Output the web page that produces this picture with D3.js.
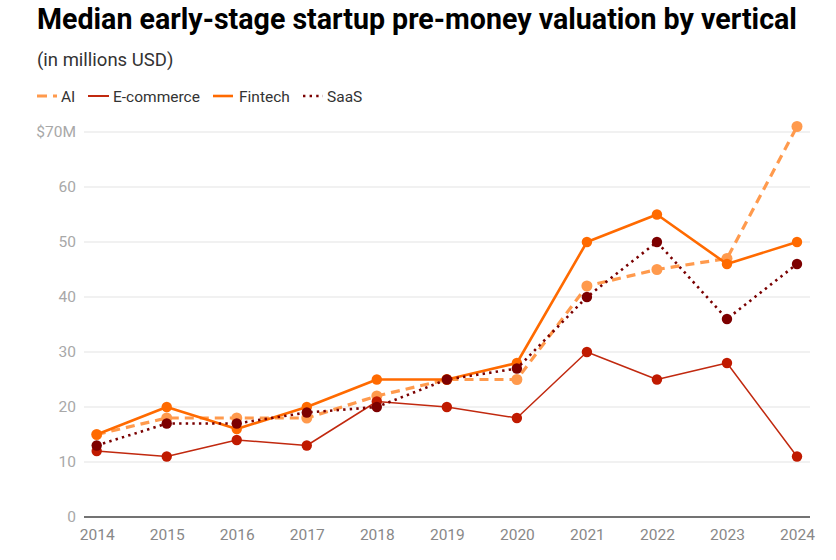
<!DOCTYPE html>
<html>
<head>
<meta charset="utf-8">
<script src="https://cdn.jsdelivr.net/npm/d3@7"></script>
<style>
  html, body { margin: 0; padding: 0; background: #fff; }
  svg { display: block; font-family: Roboto, "Noto Sans", sans-serif; }
</style>
</head>
<body>
<svg id="chart" width="836" height="560"></svg>
<script>
const years = ["2014","2015","2016","2017","2018","2019","2020","2021","2022","2023","2024"];
const seriesNames = ["AI", "E-commerce", "Fintech", "SaaS"];
const aiValues        = [15, 18, 18, 18, 22, 25, 25, 42, 45, 47, 71];
const ecommerceValues = [12, 11, 14, 13, 21, 20, 18, 30, 25, 28, 11];
const fintechValues   = [15, 20, 16, 20, 25, 25, 28, 50, 55, 46, 50];
const saasValues      = [13, 17, 17, 19, 20, 25, 27, 40, 50, 36, 46];
const yTicks = [0, 10, 20, 30, 40, 50, 60, 70];

const styles = {
  "AI":         { line: "#ff9a4d", dot: "#ff9a4d", width: 3.2, dash: "9,6", r: 5.5, cap: "butt" },
  "E-commerce": { line: "#c1290f", dot: "#c01a00", width: 1.5, dash: null, r: 5.2, cap: "butt" },
  "Fintech":    { line: "#ff6a00", dot: "#ff6a00", width: 2.6, dash: null, r: 5.2, cap: "butt" },
  "SaaS":       { line: "#7a0000", dot: "#7d0000", width: 2.6, dash: "2.4,4.2", r: 5.2, cap: "butt" }
};
const valuesBy = { "AI": aiValues, "E-commerce": ecommerceValues, "Fintech": fintechValues, "SaaS": saasValues };

const svg = d3.select("#chart");
const gridLeft = 84, gridRight = 810;

const x = d3.scalePoint().domain(years).range([96.7, 797]);
const y = d3.scaleLinear().domain([0, 70]).range([517, 132]);

// title
svg.append("text").attr("x", 37).attr("y", 28.5)
  .attr("font-size", 26).attr("font-weight", 700).attr("fill", "#000")
  .attr("id", "title")
  .text("Median early-stage startup pre-money valuation by vertical");
svg.append("text").attr("x", 37).attr("y", 65.5)
  .attr("font-size", 18.5).attr("fill", "#333")
  .text("(in millions USD)");

// legend
const legendItems = [
  { name: "AI", sx: 37, sw: 20, tx: 61 },
  { name: "E-commerce", sx: 88, sw: 21, tx: 113 },
  { name: "Fintech", sx: 213, sw: 20, tx: 239 },
  { name: "SaaS", sx: 303, sw: 20, tx: 327 }
];
const lg = svg.append("g");
legendItems.forEach(it => {
  const s = styles[it.name];
  lg.append("line").attr("x1", it.sx).attr("x2", it.sx + it.sw)
    .attr("y1", 96).attr("y2", 96)
    .attr("stroke", s.line).attr("stroke-width", Math.max(s.width, 2))
    .attr("stroke-dasharray", it.name === "AI" ? "10,6" : s.dash);
  lg.append("text").attr("x", it.tx).attr("y", 101.5)
    .attr("font-size", 15.5).attr("fill", "#333").text(it.name);
});

// gridlines and y labels
const yg = svg.append("g");
yTicks.forEach(t => {
  if (t !== 0) {
    yg.append("line").attr("x1", gridLeft).attr("x2", gridRight)
      .attr("y1", y(t)).attr("y2", y(t))
      .attr("stroke", "#e3e3e3").attr("stroke-width", 1);
  }
  yg.append("text").attr("x", 76).attr("y", y(t)).attr("dy", "0.35em")
    .attr("text-anchor", "end").attr("font-size", 15.5).attr("fill", "#a8a8a8")
    .text(t === 70 ? "$70M" : t);
});
// baseline
svg.append("line").attr("x1", gridLeft).attr("x2", gridRight)
  .attr("y1", y(0)).attr("y2", y(0)).attr("stroke", "#444").attr("stroke-width", 1.5);

// x axis
const xAxis = d3.axisBottom(x).tickSize(0).tickPadding(12);
const xg = svg.append("g").attr("transform", `translate(0,${y(0)})`).call(xAxis);
xg.select(".domain").remove();
xg.selectAll("text").attr("font-size", 15.5).attr("fill", "#888")
  .attr("font-family", "Roboto, 'Noto Sans', sans-serif");

// lines
const line = d3.line().x((d, i) => x(years[i])).y(d => y(d));
seriesNames.forEach(name => {
  const s = styles[name];
  const vals = valuesBy[name];
  const g = svg.append("g");
  g.append("path").datum(vals).attr("d", line).attr("fill", "none")
    .attr("stroke", s.line).attr("stroke-width", s.width)
    .attr("stroke-dasharray", s.dash).attr("stroke-linejoin", "round")
    .attr("stroke-linecap", s.cap);
  g.selectAll("circle").data(vals).join("circle")
    .attr("cx", (d, i) => x(years[i])).attr("cy", d => y(d))
    .attr("r", s.r).attr("fill", s.dot);
});

// fit title width to reference
const t = document.getElementById("title");
const w = t.getComputedTextLength();
if (Math.abs(w - 760) > 8) t.setAttribute("font-size", 26 * 760 / w);
</script>
</body>
</html>
